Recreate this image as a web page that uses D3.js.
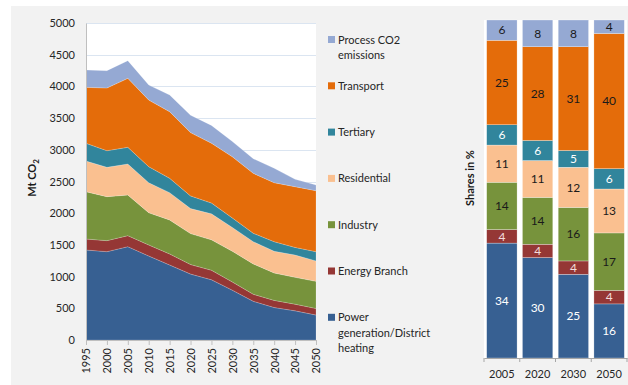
<!DOCTYPE html>
<html>
<head>
<meta charset="utf-8">
<script src="https://cdn.jsdelivr.net/npm/d3@7/dist/d3.min.js"></script>
<style>
  html, body { margin: 0; padding: 0; background: #ffffff; }
  svg { display: block; font-family: Lato, "Liberation Sans", sans-serif; }
</style>
</head>
<body>
<svg id="chart" width="628" height="385"></svg>
<script>
// ---- Data: CO2 emissions by sector (Mt CO2) ----
const years = [1995, 2000, 2005, 2010, 2015, 2020, 2025, 2030, 2035, 2040, 2045, 2050];
const power        = [1420, 1393, 1472, 1325, 1183, 1040, 950, 785, 610, 512, 460, 394];
const energyBranch = [173, 174, 174, 174, 174, 150, 150, 130, 111, 113, 105, 103];
const industry     = [746, 694, 641, 509, 536, 488, 480, 485, 479, 432, 424, 428];
const residential  = [484, 463, 489, 473, 431, 395, 410, 375, 351, 343, 351, 323];
const tertiary     = [279, 262, 263, 253, 226, 200, 170, 150, 132, 150, 120, 145];
const transport    = [883, 989, 1088, 1051, 1051, 998, 945, 965, 946, 931, 958, 962];
const processCO2   = [274, 273, 279, 237, 263, 275, 280, 240, 231, 227, 116, 90];
const yTicks = [0, 500, 1000, 1500, 2000, 2500, 3000, 3500, 4000, 4500, 5000];

// ---- Data: sector shares (%) ----
const shareYears       = ["2005", "2020", "2030", "2050"];
const sharePower       = [34, 30, 25, 16];
const shareEnergy      = [4, 4, 4, 4];
const shareIndustry    = [14, 14, 16, 17];
const shareResidential = [11, 11, 12, 13];
const shareTertiary    = [6, 6, 5, 6];
const shareTransport   = [25, 28, 31, 40];
const shareProcess     = [6, 8, 8, 4];

// ---- Sectors, bottom to top ----
const sectors = [
  { key: "power",       label: ["Power", "generation/District", "heating"], color: "#376092", text: "#ffffff", values: power,        shares: sharePower },
  { key: "energy",      label: ["Energy Branch"],                           color: "#953735", text: "#f2dcdb", values: energyBranch, shares: shareEnergy },
  { key: "industry",    label: ["Industry"],                                color: "#77933c", text: "#1a1a1a", values: industry,     shares: shareIndustry },
  { key: "residential", label: ["Residential"],                             color: "#fac090", text: "#1a1a1a", values: residential,  shares: shareResidential },
  { key: "tertiary",    label: ["Tertiary"],                                color: "#31859c", text: "#ffffff", values: tertiary,     shares: shareTertiary },
  { key: "transport",   label: ["Transport"],                               color: "#e46c0a", text: "#1a1a1a", values: transport,    shares: shareTransport },
  { key: "process",     label: ["Process CO2", "emissions"],                color: "#95a9d3", text: "#1a1a1a", values: processCO2,   shares: shareProcess }
];
const keys = sectors.map(s => s.key);
const colorOf = Object.fromEntries(sectors.map(s => [s.key, s.color]));
const textOf = Object.fromEntries(sectors.map(s => [s.key, s.text]));

const svg = d3.select("#chart");
const axisColor = "#bfbfbf";
const labelColor = "#262626";

// Panel background
svg.append("rect").attr("x", 11).attr("y", 6).attr("width", 617).attr("height", 379).attr("fill", "#f2f2f2");

// ================= Stacked area chart =================
const areaRows = years.map((y, i) => {
  const row = { year: y };
  sectors.forEach(s => row[s.key] = s.values[i]);
  return row;
});
const areaStack = d3.stack().keys(keys)(areaRows);

const ax = d3.scaleLinear().domain([1995, 2050]).range([86, 316]);
const ay = d3.scaleLinear().domain([0, 5000]).range([340, 23]);

svg.append("rect").attr("x", 86).attr("y", 23).attr("width", 230).attr("height", 317).attr("fill", "#ffffff");

// gridlines
svg.append("g").selectAll("line").data(yTicks.filter(t => t > 0)).join("line")
  .attr("x1", 86).attr("x2", 316)
  .attr("y1", d => Math.round(ay(d)) + 0.5).attr("y2", d => Math.round(ay(d)) + 0.5)
  .attr("stroke", "#dbe5f1").attr("stroke-width", 1);

const area = d3.area()
  .x(d => ax(d.data.year))
  .y0(d => ay(d[0]))
  .y1(d => ay(d[1]));

svg.append("g").selectAll("path").data(areaStack).join("path")
  .attr("d", area)
  .attr("fill", d => colorOf[d.key])
  .attr("stroke", "#ffffff").attr("stroke-width", 0.3).attr("stroke-opacity", 0.6);

// y axis
const yAxisG = svg.append("g").attr("transform", "translate(86,0)")
  .call(d3.axisLeft(ay).tickValues(yTicks).tickSize(0).tickPadding(11).tickFormat(d3.format("d")));
yAxisG.select(".domain").attr("stroke", axisColor);
yAxisG.selectAll("text").attr("font-size", 11).attr("fill", labelColor).attr("font-family", "Lato, sans-serif");

// x axis
const xAxisG = svg.append("g").attr("transform", "translate(0,340)")
  .call(d3.axisBottom(ax).tickValues(years).tickSize(5).tickFormat(d3.format("d")));
xAxisG.select(".domain").attr("stroke", axisColor);
xAxisG.selectAll(".tick line").attr("stroke", axisColor);
xAxisG.selectAll("text")
  .attr("font-size", 11).attr("fill", labelColor).attr("font-family", "Lato, sans-serif")
  .attr("transform", "rotate(-90)")
  .attr("text-anchor", "end")
  .attr("x", -8).attr("y", 0).attr("dy", "0.35em");

// y axis title
const yTitle = svg.append("text")
  .attr("transform", "translate(36,178) rotate(-90)")
  .attr("text-anchor", "middle")
  .attr("font-size", 11).attr("font-weight", "bold").attr("fill", "#1a1a1a");
yTitle.append("tspan").text("Mt CO");
yTitle.append("tspan").attr("font-size", 8).attr("dy", 3).text("2");

// ================= Legend =================
const legendTop = [...sectors].reverse();
const legend = svg.append("g");
legendTop.forEach((s, i) => {
  const cy = 39.5 + i * 46.3;
  legend.append("rect").attr("x", 328).attr("y", cy - 3.5).attr("width", 7).attr("height", 7).attr("fill", s.color);
  s.label.forEach((line, j) => {
    legend.append("text").attr("x", 338).attr("y", cy + 4 + j * 15.3)
      .attr("font-size", 11).attr("fill", labelColor).text(line);
  });
});

// ================= 100% stacked bars =================
const barRows = shareYears.map((y, i) => {
  const row = { year: y };
  sectors.forEach(s => row[s.key] = s.shares[i]);
  return row;
});
const barStack = d3.stack().keys(keys).offset(d3.stackOffsetExpand)(barRows);

const bx = d3.scaleBand().domain(shareYears).range([484, 627]).paddingInner(0.15).paddingOuter(0.075);
const by = d3.scaleLinear().domain([0, 1]).range([358, 20]);

svg.append("rect").attr("x", 484).attr("y", 20).attr("width", 143).attr("height", 338).attr("fill", "#ffffff");

const layers = svg.append("g").selectAll("g").data(barStack).join("g")
  .attr("fill", d => colorOf[d.key]);
layers.selectAll("rect").data(d => d.map(v => Object.assign(v, { key: d.key }))).join("rect")
  .attr("x", d => bx(d.data.year))
  .attr("width", bx.bandwidth())
  .attr("y", d => by(d[1]))
  .attr("height", d => by(d[0]) - by(d[1]))
  .attr("stroke", "#ffffff").attr("stroke-width", 0.4).attr("stroke-opacity", 0.7);

layers.selectAll("text").data(d => d).join("text")
  .attr("x", d => bx(d.data.year) + bx.bandwidth() / 2)
  .attr("y", d => (by(d[0]) + by(d[1])) / 2)
  .attr("dy", "0.36em")
  .attr("text-anchor", "middle")
  .attr("font-size", 12)
  .attr("fill", d => textOf[d.key])
  .text(d => d.data[d.key]);

// bar axis
const bAxisG = svg.append("g").attr("transform", "translate(0,358)")
  .call(d3.axisBottom(bx).tickSize(0).tickPadding(12));
bAxisG.select(".domain").attr("stroke", "#a6a6a6");
bAxisG.selectAll("text").attr("font-size", 11).attr("fill", labelColor).attr("font-family", "Lato, sans-serif");
// tick marks at band boundaries
const bounds = shareYears.map(y => bx(y) - bx.step() * bx.paddingInner() / 2)
  .concat([bx(shareYears[shareYears.length - 1]) + bx.bandwidth() + bx.step() * bx.paddingInner() / 2]);
bAxisG.selectAll("line.bound").data(bounds).join("line").attr("class", "bound")
  .attr("x1", d => d).attr("x2", d => d).attr("y1", 0).attr("y2", 4)
  .attr("stroke", "#a6a6a6");

// bar axis title
svg.append("text")
  .attr("transform", "translate(474,178) rotate(-90)")
  .attr("text-anchor", "middle")
  .attr("font-size", 11).attr("font-weight", "bold").attr("fill", "#1a1a1a")
  .text("Shares in %");
</script>
</body>
</html>
